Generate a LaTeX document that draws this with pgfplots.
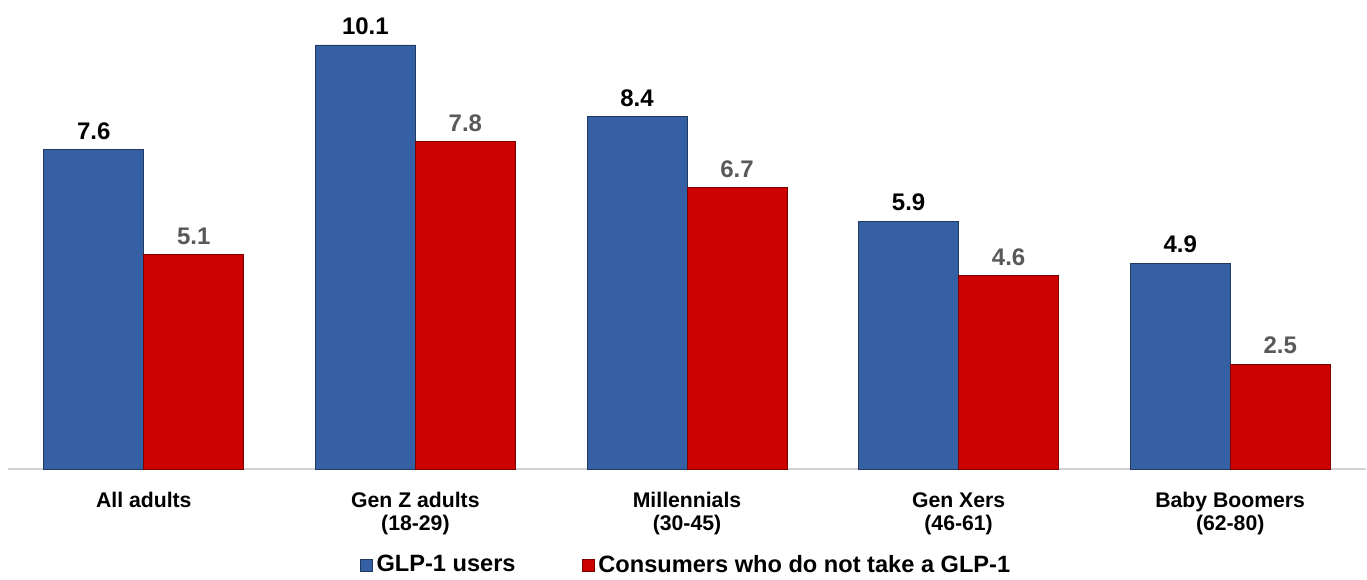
\documentclass[border=0pt]{standalone}
\usepackage{pgfplots}
\pgfplotsset{compat=1.18}
\usepackage{fontspec}
\setmainfont{Liberation Sans}
\definecolor{bblue}{HTML}{3560A4}
\definecolor{bred}{HTML}{CC0000}
\definecolor{lgray}{HTML}{595959}
\begin{document}
\begin{tikzpicture}
\begin{axis}[
  scale only axis,
  width=679pt, height=234.5pt,
  ymin=0, ymax=11.17,
  xmin=-0.5, xmax=4.5,
  ybar=0pt, bar width=50pt,
  axis y line=none,
  axis x line*=bottom,
  x axis line style={draw=black!18, line width=0.8pt},
  xtick=data,
  xticklabels={All adults, {Gen Z adults\\(18-29)}, {Millennials\\(30-45)}, {Gen Xers\\(46-61)}, {Baby Boomers\\(62-80)}},
  xtick style={draw=none},
  x tick label style={font=\bfseries\fontsize{10.6pt}{11.5pt}\selectfont, align=center, text=black, yshift=-4pt},
  /pgf/number format/assume math mode=true,
  nodes near coords,
  nodes near coords style={font=\bfseries\fontsize{12pt}{13pt}\selectfont, /pgf/number format/fixed, /pgf/number format/precision=1, /pgf/number format/fixed zerofill, yshift=1.5pt},
  legend style={at={(0.5,-0.205)}, anchor=center, draw=none, legend columns=2,
    font=\bfseries\fontsize{11.8pt}{12.5pt}\selectfont,
    /tikz/every even column/.append style={column sep=31pt}},
  legend image code/.code={\draw[#1] (0pt,-3pt) rectangle (6pt,3pt);},
]
\addplot[fill=bblue, draw=bblue!60!black, every node near coord/.append style={text=black}]
  coordinates {(0,7.6) (1,10.1) (2,8.4) (3,5.9) (4,4.9)};
\addplot[fill=bred, draw=bred!60!black, every node near coord/.append style={text=lgray}]
  coordinates {(0,5.1) (1,7.8) (2,6.7) (3,4.6) (4,2.5)};
\legend{GLP-1 users, Consumers who do not take a GLP-1}
\end{axis}
\pgfresetboundingbox
\path[use as bounding box] ([shift={(-4pt,-55pt)}]current axis.south west) rectangle ([shift={(0.5pt,0pt)}]current axis.north east);
\end{tikzpicture}
\end{document}
